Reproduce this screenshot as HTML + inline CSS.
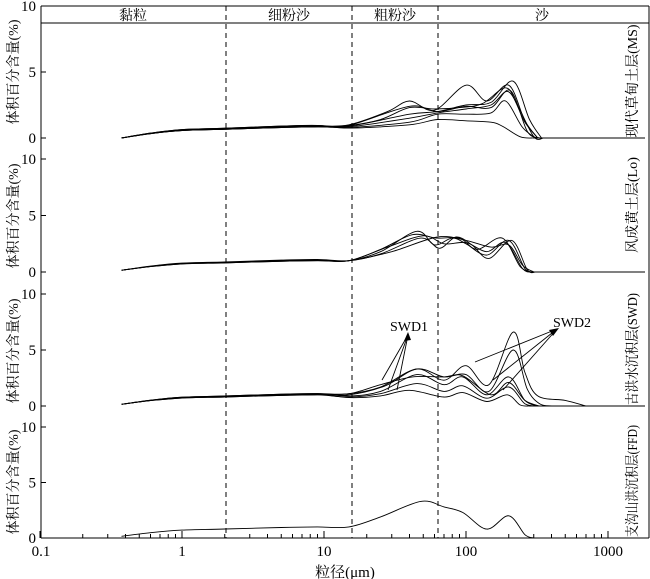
<!DOCTYPE html>
<html><head><meta charset="utf-8"><style>
html,body{margin:0;padding:0;background:#fff}
svg{display:block}
text{font-family:"Liberation Serif","Noto Serif CJK SC",serif;fill:#000}
</style></head><body>
<svg id="s" width="650" height="579" viewBox="0 0 650 579" xmlns="http://www.w3.org/2000/svg">
<g stroke="#000" fill="none" stroke-width="1">
<line x1="41" y1="6" x2="649" y2="6"/>
<line x1="41" y1="23" x2="649" y2="23"/>
<line x1="41" y1="6" x2="41" y2="538"/>
<line x1="649" y1="6" x2="649" y2="538"/>
<line x1="41" y1="538" x2="649" y2="538"/>
<g stroke-dasharray="5,4">
<line x1="226" y1="6" x2="226" y2="538"/>
<line x1="352" y1="6" x2="352" y2="538"/>
<line x1="438" y1="6" x2="438" y2="538"/>
</g>
</g>
<g font-size="14" text-anchor="middle">
<text x="133" y="20">黏粒</text>
<text x="289" y="20">细粉沙</text>
<text x="395" y="20">粗粉沙</text>
<text x="542" y="20">沙</text>
</g>
<g font-size="15" text-anchor="middle">
<text x="41" y="556">0.1</text>
<text x="182" y="556">1</text>
<text x="324" y="556">10</text>
<text x="466" y="556">100</text>
<text x="608" y="556">1000</text>
<text x="345" y="577">粒径(μm)</text>
</g>
<g id="yl" font-size="15" text-anchor="end"></g>
<g id="ticks" stroke="#000" stroke-width="1"></g>
<g id="curves" stroke="#000" fill="none" stroke-width="0.9"></g>
<g font-size="14" text-anchor="middle" lengthAdjust="spacingAndGlyphs">
<text transform="translate(18,72) rotate(-90)" textLength="105" lengthAdjust="spacingAndGlyphs">体积百分含量(%)</text>
<text transform="translate(18,216) rotate(-90)" textLength="105" lengthAdjust="spacingAndGlyphs">体积百分含量(%)</text>
<text transform="translate(18,351) rotate(-90)" textLength="105" lengthAdjust="spacingAndGlyphs">体积百分含量(%)</text>
<text transform="translate(18,482) rotate(-90)" textLength="105" lengthAdjust="spacingAndGlyphs">体积百分含量(%)</text>
<text transform="translate(637,81) rotate(-90)" textLength="113" lengthAdjust="spacingAndGlyphs">现代草甸土层(MS)</text>
<text transform="translate(637,205) rotate(-90)" textLength="96" lengthAdjust="spacingAndGlyphs">风成黄土层(Lo)</text>
<text transform="translate(637,349) rotate(-90)" textLength="112" lengthAdjust="spacingAndGlyphs">古洪水沉积层(SWD)</text>
<text transform="translate(637,481) rotate(-90)" textLength="112" lengthAdjust="spacingAndGlyphs">支沟山洪沉积层(FFD)</text>
</g>
<g font-size="14" text-anchor="middle">
<text x="409" y="331">SWD1</text>
<text x="572" y="327">SWD2</text>
</g>
<g stroke="#000" stroke-width="0.9" fill="none">
<line x1="382" y1="380" x2="408" y2="335"/>
<line x1="388" y1="390" x2="408" y2="335"/>
<line x1="397" y1="390" x2="408" y2="335"/>
<line x1="475" y1="362" x2="557" y2="329"/>
<line x1="493" y1="380" x2="557" y2="329"/>
<line x1="503" y1="390" x2="557" y2="329"/>
</g>
<polygon points="408,332 404,341 411,340" fill="#000"/>
<polygon points="559,328 549,330 553,336" fill="#000"/>
</svg>
<script>
var NS="http://www.w3.org/2000/svg";
function X(d){return 40+142*(Math.log(d)/Math.LN10+1);}
var panels=[[138,13.2],[272,11.3],[406,11.2],[538,11.1]];
var yl=document.getElementById('yl'),tk=document.getElementById('ticks');
function el(tag,a,p){var e=document.createElementNS(NS,tag);for(var k in a)e.setAttribute(k,a[k]);p.appendChild(e);return e;}
panels.forEach(function(p){[0,5,10].forEach(function(v){var y=p[0]-v*p[1];var t=el('text',{x:36,y:y+5},yl);t.textContent=v;el('line',{x1:41,y1:y,x2:46,y2:y},tk);});});
for(var dec=-1;dec<3;dec++){for(var m=1;m<10;m++){var x=X(m*Math.pow(10,dec));el('line',{x1:x,y1:538,x2:x,y2:m==1?531:534},tk);}}
el('line',{x1:X(1000),y1:538,x2:X(1000),y2:531},tk);
var base=[[0.375,0],[0.6,0.35],[1,0.6],[2,0.7],[5,0.85],[9,0.9]];
var MS=[
[[15,0.95],[25,1.4],[40,2.3],[60,2.2],[90,2.3],[130,2.6],[190,3.8],[230,2.5],[300,0.1],[350,0]],
[[15,1.0],[28,2.0],[40,2.8],[60,2.1],[100,4.0],[140,2.8],[200,4.0],[260,1.3],[320,0]],
[[15,0.9],[40,1.8],[63,2.0],[100,2.5],[150,2.7],[215,4.3],[280,1.4],[340,0]],
[[15,0.85],[40,1.5],[63,1.9],[100,2.2],[150,2.5],[200,3.5],[260,1.2],[320,0]],
[[15,0.8],[40,1.2],[63,1.8],[100,1.8],[150,1.9],[190,2.8],[250,0.8],[310,0]],
[[15,0.75],[40,1.0],[63,1.4],[100,1.3],[150,1.2],[180,0.9],[240,0.1],[300,0]],
[[15,0.95],[40,2.4],[63,2.0],[100,2.4],[150,2.3],[205,3.6],[270,0.5],[330,0]]];
var LO=[
[[15,1.0],[25,1.8],[45,3.6],[60,2.4],[80,3.0],[100,2.5],[140,1.5],[200,2.8],[260,0.3],[300,0]],
[[15,1.0],[25,2.0],[42,3.3],[62,3.0],[90,3.0],[120,2.0],[180,3.0],[240,0.5],[290,0]],
[[15,1.0],[25,1.6],[48,3.0],[65,2.1],[85,3.1],[110,2.4],[145,1.2],[210,2.8],[270,0.2],[310,0]],
[[15,1.0],[30,1.8],[63,3.1],[100,2.8],[150,2.2],[200,2.4],[250,0.6],[300,0]],
[[15,1.0],[28,2.2],[50,3.2],[70,2.5],[100,2.6],[140,1.8],[190,2.6],[250,0.3],[290,0]]];
var SWD=[
[[15,1.1],[25,1.7],[45,3.3],[70,2.3],[100,3.6],[145,1.9],[215,6.6],[260,3.0],[320,0.9],[500,0.5],[700,0]],
[[15,1.0],[27,1.8],[45,3.3],[70,2.6],[100,2.8],[145,1.3],[215,5.0],[270,1.5],[330,0.2],[400,0]],
[[15,0.9],[25,1.3],[45,2.8],[70,1.9],[95,2.6],[140,1.0],[200,2.6],[260,0.5],[320,0]],
[[15,0.8],[25,1.1],[45,2.0],[70,1.3],[95,1.8],[140,0.7],[200,1.7],[260,0.2],[320,0]],
[[15,0.75],[25,0.9],[40,1.4],[70,0.8],[95,1.2],[140,0.4],[195,1.0],[240,0.1],[280,0]],
[[15,1.1],[25,1.9],[42,2.6],[70,2.6],[95,2.7],[150,1.0],[200,2.1],[260,0.5],[330,0]]];
var FFD=[[[15,1.0],[25,1.9],[48,3.3],[70,2.8],[95,2.3],[140,0.8],[200,2.0],[260,0.3],[300,0]]];
var cv=document.getElementById('curves');
function draw(list,p,j){list.forEach(function(c,i){var pts=base.map(function(b){return [b[0],b[1]*(1+0.06*(i%3-1))+(j>=1?0.15:0)];}).concat(c);
var P=pts.map(function(q){return [X(q[0]),p[0]-q[1]*p[1]];});
var d='M'+P[0][0].toFixed(1)+','+P[0][1].toFixed(1);
for(var k=0;k<P.length-1;k++){var p0=P[k-1]||P[k],p1=P[k],p2=P[k+1],p3=P[k+2]||P[k+1];
d+=' C'+(p1[0]+(p2[0]-p0[0])/6).toFixed(1)+','+(p1[1]+(p2[1]-p0[1])/6).toFixed(1)+' '+(p2[0]-(p3[0]-p1[0])/6).toFixed(1)+','+(p2[1]-(p3[1]-p1[1])/6).toFixed(1)+' '+p2[0].toFixed(1)+','+p2[1].toFixed(1);}
d+=' L'+(j==3?X(300):645)+','+p[0];
el('path',{d:d},cv);});}
draw(MS,panels[0],0);draw(LO,panels[1],1);draw(SWD,panels[2],2);draw(FFD,panels[3],3);
</script>
</body></html>
